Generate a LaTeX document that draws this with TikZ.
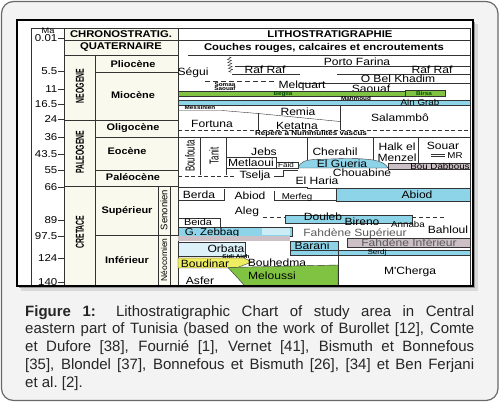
\documentclass[tikz,border=0pt]{standalone}
\usepackage{fontspec}
\setmainfont{Liberation Sans}
\newfontfamily\chartfont[FakeStretch=1.15]{Liberation Sans}
\newfontfamily\narrowfont[FakeStretch=0.6]{Liberation Sans}
\usetikzlibrary{positioning,decorations.pathmorphing}

\definecolor{panelgray}{RGB}{243,243,243}
\definecolor{rimgray}{RGB}{105,105,105}
\definecolor{chartcream}{RGB}{250,249,238}
\definecolor{litgreen}{RGB}{128,194,66}
\definecolor{litblue}{RGB}{142,212,232}
\definecolor{litmauve}{RGB}{204,192,198}
\definecolor{lityellow}{RGB}{238,236,96}

\begin{document}
\begin{tikzpicture}[
  x=1pt, y=-1pt,
  rule/.style={draw=black!80, line width=0.6pt},
  thinrule/.style={draw=black!80, line width=0.4pt},
  head/.style={font=\chartfont\bfseries\fontsize{9.8}{10}\selectfont, inner sep=0pt},
  epoch/.style={font=\chartfont\bfseries\fontsize{9.5}{10}\selectfont, inner sep=0pt},
  era/.style={font=\narrowfont\bfseries\fontsize{11.5}{12}\selectfont, inner sep=0pt, rotate=90},
  stage/.style={font=\fontsize{9.5}{10}\selectfont, inner sep=0pt, rotate=90},
  fm/.style={font=\chartfont\fontsize{10.5}{11}\selectfont, inner sep=0pt},
  fmsmall/.style={font=\chartfont\fontsize{8.5}{9}\selectfont, inner sep=0pt},
  fmtiny/.style={font=\chartfont\bfseries\fontsize{5.5}{6}\selectfont, inner sep=0pt},
  fmvert/.style={font=\narrowfont\fontsize{13}{13}\selectfont, inner sep=0pt, rotate=90},
  age/.style={font=\chartfont\fontsize{10}{10}\selectfont, inner sep=0pt, anchor=east},
]
\useasboundingbox (0,0) rectangle (501,403);

% panel, shadow and frame
\draw[rimgray, line width=1.2pt, fill=panelgray, rounded corners=12pt] (1.5,1.5) rectangle (498,400.5);
\fill[black!15] (21,24) rectangle (478,291);
\fill[black!40] (19,22) rectangle (475,288);
\draw[line width=2pt, fill=white] (17,20) rectangle (473,286);

\begin{scope}
\clip (18,21) rectangle (472,285);
\fill[chartcream] (64,28) rectangle (178,286);

% chronostratigraphic grid
\draw[rule] (31,286) -- (31,28) -- (470,28) -- (470,286);
\draw[rule] (64,28) -- (64,286) (178,28) -- (178,286) (95,55) -- (95,286);
\draw[rule] (64,40) -- (470,40) (64,55) -- (178,55) (188,55) -- (470,55);
\draw[rule] (95,72.5) -- (178,72.5) (64,120) -- (178,120) (95,137) -- (178,137)
  (95,170) -- (178,170) (64,186.5) -- (178,186.5) (95,235) -- (178,235);
\draw[rule] (158,186.5) -- (158,286) (170,186.5) -- (170,286);

\node[age, anchor=center, font=\chartfont\fontsize{8}{8}\selectfont] (ma) at (48,30.5) {Ma};
\foreach \v/\y in {0.01/38.5, 5.5/71, 11/89, 16.5/104, 24/119, 36/137, 43.5/154,
                   55/170, 66/187, 89/220, 97.5/236, 124/258, 140/282} {
  \draw[thinrule] (58,\y) -- (64,\y);
  \node[age] (age-\y) at (57.5,\y) {\v};
}

\node[head] (chrono) at (121,34) {CHRONOSTRATIG.};
\node[head] (quat) at (121,47.5) {QUATERNAIRE};
\node[epoch] (plio) at (133,64) {Pliocène};
\node[epoch] (mio) at (133,95) {Miocène};
\node[epoch] (oligo) at (133,128.5) {Oligocène};
\node[epoch] (eoc) at (127,151.5) {Eocène};
\node[epoch] (paleoc) at (133,177.5) {Paléocène};
\node[epoch] (sup) at (127,211.5) {Supérieur};
\node[epoch] (inf) at (127,260.5) {Inférieur};
\node[era] (neogene) at (80,86) {NEOGENE};
\node[era] (paleogene) at (80,152) {PALEOGENE};
\node[era] (cretace) at (80,232) {CRETACE};
\node[stage] (senon) at (164,210) {Senonien};
\node[stage, font=\fontsize{8.5}{9}\selectfont] (neocom) at (164,260) {Néocomien};

% lithostratigraphie: Neogene
\node[head] (lith) at (330,34) {LITHOSTRATIGRAPHIE};
\node[head] (couches) at (324,47.5) {Couches rouges, calcaires et encroutements};
\draw[thinrule] (235,66) -- (470,66);
\node[fm] (porto) at (357,61.5) {Porto Farina};
\draw[thinrule, decorate, decoration={zigzag, amplitude=2pt, segment length=3pt}] (229,57) -- (231,73);
\node[fm] (segui) at (193,73) {Ségui};
\node[fm] (rafw) at (265,69.5) {Raf Raf};
\node[fm] (rafe) at (432,69.5) {Raf Raf};
\draw[thinrule] (232,74) -- (300,74) (337,74) -- (470,74);
\node[fm] (khadim) at (398,78.5) {O Bel Khadim};
\draw[thinrule, dash pattern=on 5pt off 3pt] (205,81.5) -- (276,81.5);
\draw[thinrule] (300,83.5) -- (470,83.5);
\node[fm] (melquart) at (302,86) {Melquart};
\node[fm] (saouaf) at (371,88.5) {Saouaf};
\node[fmtiny] (somaa) at (225,85) {Somaa};
\node[fmtiny] (saouafw) at (225,89) {Saouaf};
\draw[thinrule, fill=litgreen] (178,91.5) rectangle (445,96);
\draw[thinrule, fill=litgreen] (405,90) rectangle (445,96.5);
\node[fmtiny, text=green!30!black] (beglia) at (283,94) {Beglia};
\node[fmtiny, text=green!30!black] (birsa) at (424,93.5) {Birsa};
\node[fmtiny] (mahmoud) at (356,98.5) {Mahmoud};
\draw[thinrule, fill=litblue] (178,100.5) rectangle (470,105);
\node[fmsmall] (aingrab) at (420,102.5) {Ain Grab};

% Oligocene
\node[fmtiny] (messin) at (200,108) {Messinien};
\draw[thinrule] (178,110.5) -- (222,110.5) -- (258,113.5) -- (340,121.5);
\draw[thinrule] (258,113.5) -- (258,130) (340,105) -- (340,130);
\node[fm] (remia) at (298,111.5) {Remia};
\node[fm] (ketatna) at (297,125.5) {Ketatna};
\node[fm] (fortuna) at (212,123.5) {Fortuna};
\node[fm] (salammbo) at (400,118) {Salammbô};
\draw[thinrule, dash pattern=on 4pt off 2.5pt] (178,130) -- (470,130);
\node[fmtiny, font=\chartfont\bfseries\fontsize{7}{7}\selectfont] (repere) at (311,133.5) {Repère à Nummulites vascus};
\draw[thinrule] (178,137.5) -- (470,137.5);

% Eocene and Paleocene
\draw[thinrule] (200,137.5) -- (200,175) (226,137.5) -- (226,175);
\node[fmvert] (boufouta) at (190,156) {Boufouta};
\node[fmvert] (tanit) at (214,156) {Tanit};
\node[fm] (jebs) at (264,151.5) {Jebs};
\draw[thinrule] (226,157.5) rectangle (276,168);
\node[fm] (metlaoui) at (251,163) {Metlaoui};
\draw[thinrule] (276,162) rectangle (298,168);
\node[fmtiny, font=\chartfont\fontsize{7}{7}\selectfont] (faid) at (286,165) {Faid};
\draw[thinrule, dash pattern=on 4pt off 2.5pt] (178,176) -- (236,176);
\node[fm] (tselja) at (255,176) {Tselja};
\draw[thinrule] (274,176) -- (283,176) -- (283,170) -- (298,170);
\draw[thinrule] (307,137.5) -- (307,160) (373,137.5) -- (373,163) (418,137.5) -- (418,163);
\node[fm] (cherahil) at (335,152) {Cherahil};
\node[fm] (halk) at (397,147) {Halk el};
\node[fm] (menzel) at (397,157.5) {Menzel};
\node[fm] (souar) at (443,146) {Souar};
\draw[thinrule] (431,154) -- (445,154) (431,156.5) -- (445,156.5);
\node[fmsmall] (mr) at (455,155.5) {MR};
\draw[thinrule, fill=litblue] (298,168) .. controls (300,162) and (305,160) .. (315,159.5)
  -- (345,158.5) .. controls (370,158.5) and (384,160) .. (388,168) -- cycle;
\node[fm] (gueria) at (342,164) {El Gueria};
\draw[thinrule, fill=litmauve] (388,163) rectangle (470,169.5);
\node[fmsmall] (boudabbous) at (440,166.5) {Bou Dabbous};
\node[fm] (chouabine) at (362,173) {Chouabine};
\node[fm] (haria) at (317,180.5) {El Haria};

% Cretaceous
\draw[thinrule] (178,187) -- (307,187) -- (307,188.5) -- (336,188.5);
\draw[thinrule] (178,200) -- (224,200) -- (224,189);
\node[fm] (berda) at (199,195) {Berda};
\node[fm] (abiodw) at (250,195.5) {Abiod};
\draw[thinrule] (274,191) -- (274,200.5) -- (336,200.5);
\node[fmsmall] (merfeg) at (297,197) {Merfeg};
\draw[thinrule, fill=litblue] (336,188.5) rectangle (470,201.5);
\node[fm] (abiode) at (417,194.5) {Abiod};
\node[fm] (aleg) at (247,212) {Aleg};
\draw[thinrule, dash pattern=on 4pt off 3pt] (263,217) -- (285,217) (412,217) -- (446,217);
\draw[thinrule, fill=litblue] (285,215) rectangle (412,223);
\node[fm] (douleb) at (323,216.5) {Douleb};
\node[fm] (bireno) at (362,222) {Bireno};
\node[fmsmall] (annaba) at (408,224.5) {Annaba};
\node[fm] (bahloul) at (448,229.5) {Bahloul};
\draw[thinrule] (178,218.5) -- (220,218.5) -- (220,227.5);
\node[fm, font=\chartfont\fontsize{9.5}{10}\selectfont] (beida) at (198,222.5) {Beida};
\draw[thinrule, fill=litblue] (178,227.5) rectangle (292,236);
\fill[litblue!45] (262,228.5) rectangle (290,235);
\node[fm, font=\chartfont\fontsize{10}{10}\selectfont] (zebbag) at (212,232.5) {G. Zebbag};
\node[fm, text=black!65] (fahdsup) at (355,234) {Fahdène Supérieur};
\fill[litmauve] (178,236) rectangle (290,241);
\draw[thinrule, fill=litmauve] (347,238) rectangle (470,247.5);
\node[fm, text=black!65] (fahdinf) at (409,243) {Fahdène Inférieur};
\draw[thinrule, fill=litblue!30] (178,242) rectangle (245,256);
\node[fm] (orbata) at (226,249) {Orbata};
\draw[thinrule, fill=litblue] (290,241) rectangle (338,250);
\node[fm] (barani) at (312,245.5) {Barani};
\draw[thinrule, fill=litblue] (290,250) rectangle (470,255.5);
\node[fmtiny, font=\chartfont\fontsize{7}{7}\selectfont] (serdj) at (377,253) {Serdj};
\node[fmtiny] (sidiaich) at (236,256.5) {Sidi Aich};
\draw[thinrule, fill=lityellow] (178,258) -- (244,258) -- (252,262) -- (236,268) -- (178,268) -- cycle;
\node[fm] (boudinar) at (205,263.5) {Boudinar};
\node[fm] (bouhedma) at (277,262.5) {Bouhedma};
\draw[thinrule, fill=litgreen] (228,267.5) -- (338,265) -- (338,286) -- (245,286) -- cycle;
\node[fm] (meloussi) at (272,276) {Meloussi};
\draw[thinrule] (338,241) -- (338,286);
\node[fm] (mcherga) at (410,272) {M'Cherga};
\node[fm] (asfer) at (200,281) {Asfer};
\end{scope}

% caption
\node[anchor=north west, inner sep=0pt, align=left, text=black!85,
      font=\fontsize{15}{17.8}\selectfont] (caption) at (25,305)
  {\makebox[449pt][s]{\textbf{Figure 1:} Lithostratigraphic Chart of study area in Central}\\%
   \makebox[449pt][s]{eastern part of Tunisia (based on the work of Burollet [12], Comte}\\%
   \makebox[449pt][s]{et Dufore [38], Fournié [1], Vernet [41], Bismuth et Bonnefous}\\%
   \makebox[449pt][s]{[35], Blondel [37], Bonnefous et Bismuth [26], [34] et Ben Ferjani}\\%
   \makebox[449pt][l]{et al.\ [2].}};
\end{tikzpicture}
\end{document}
